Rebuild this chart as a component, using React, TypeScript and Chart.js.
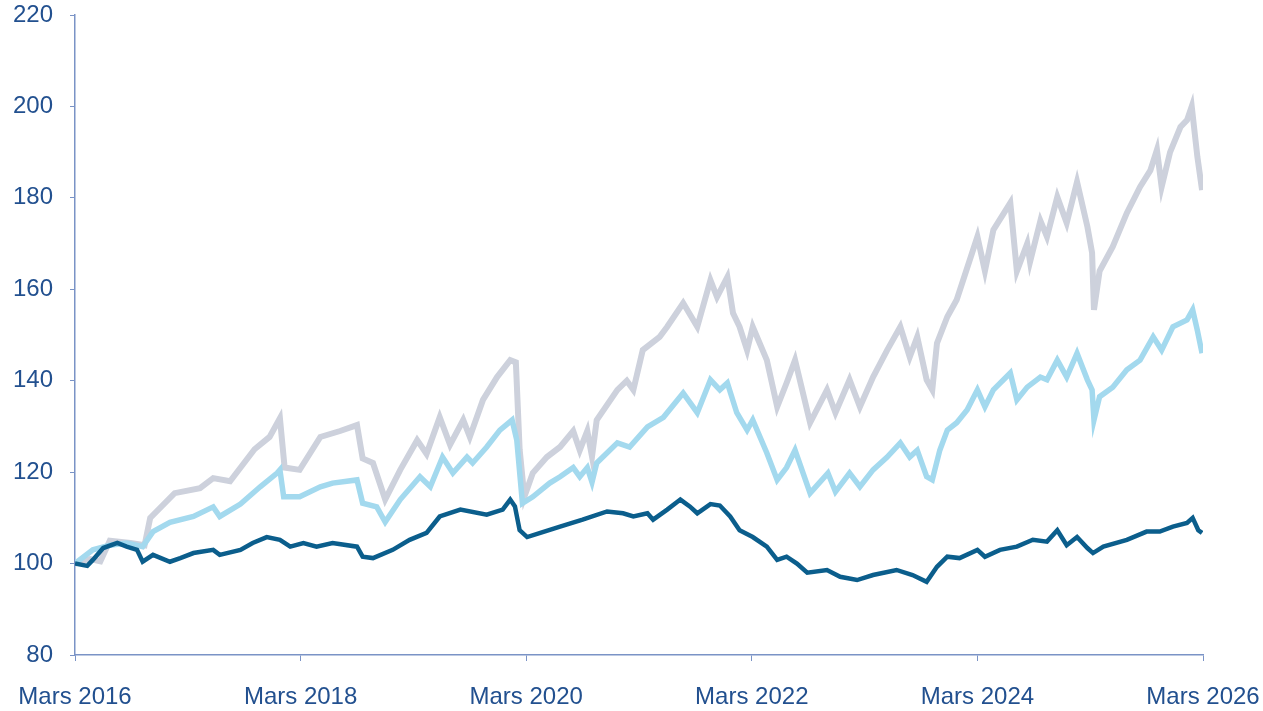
import React, { useEffect, useRef } from "react";
import { Chart, registerables } from "chart.js";

Chart.register(...registerables);

// Months since March 2016
const grayMonths = [0,1.6,2.7,3.7,5.9,7.4,8.0,10.6,13.3,14.7,16.5,19.1,20.7,21.8,22.3,23.9,26.1,28.2,30.0,30.6,31.7,33.0,34.6,36.4,37.4,38.8,39.9,41.3,42.0,43.4,44.9,46.3,46.9,47.3,47.8,48.7,50.2,51.6,53.0,53.7,54.5,55.0,55.5,57.7,58.7,59.4,60.4,62.2,63.0,64.7,66.2,67.6,68.3,69.4,70.0,70.7,71.5,72.1,73.6,74.7,75.7,76.6,78.2,80.0,80.9,82.4,83.5,84.9,86.4,87.8,88.8,89.6,90.6,91.2,91.7,92.8,93.8,96.0,96.8,97.7,99.5,100.2,101.3,101.6,102.7,103.4,104.5,105.5,106.6,107.7,108.2,108.4,109.0,110.4,111.9,113.3,114.4,115.1,115.6,116.5,117.6,118.3,118.8,119.4,119.9];
const grayValues = [100,101,100.5,105,104.5,104,110,115.4,116.5,118.7,118,125,127.7,131.8,121,120.5,127.7,129,130.3,123,122,114,120.5,127,124,132,126,131.4,127.7,135.8,140.8,144.5,144,125,114.6,119.8,123.3,125.5,129,124.8,129,123.4,131.4,138,140,138,146.7,149.6,151.8,157,151.8,162,158.3,162.7,154.8,151.8,146.7,151.8,144.5,134.3,139.5,144.5,130.8,138,133,140.2,134.3,140.8,146.7,151.8,145.2,149.6,140.2,138,148.2,154,157.7,171.5,164,173,178.9,164,170,166,175,171.5,180.2,174.5,183.5,173.7,168,155.5,164,169.3,176.7,182.4,186,190.5,182.4,190,195.5,197,200,189,181.7];

const lightMonths = [0,1.9,3.7,5.5,7.2,8.3,10.1,12.6,14.7,15.4,17.6,19.7,21.5,21.8,22.2,23.9,26.1,27.4,30.0,30.6,32.1,33.0,34.6,36.7,37.8,39.1,40.2,41.7,42.3,43.8,45.2,46.5,47.0,47.6,48.7,50.5,51.6,53.0,53.7,54.5,55.0,55.5,57.7,59.0,60.9,62.6,64.7,66.2,67.6,68.6,69.4,70.4,71.5,72.1,73.6,74.7,75.7,76.6,78.2,80.1,80.9,82.4,83.5,84.9,86.4,87.8,88.8,89.6,90.6,91.2,92.0,92.8,93.8,94.9,96.0,96.8,97.7,99.5,100.2,101.3,102.7,103.4,104.5,105.5,106.6,107.7,108.2,108.4,109.0,110.4,111.9,113.3,114.7,115.6,116.8,118.3,118.9,119.4,119.9];
const lightValues = [100,103,104,104.5,103.7,107,109,110.3,112.4,110.3,113,116.8,119.8,120.5,114.6,114.6,116.8,117.6,118.3,113.2,112.4,109.1,114,119,116.8,123.3,119.8,123.3,122,125.5,129.2,131.4,127,113.2,114.6,117.6,119,121,119,121,117.8,122,126.4,125.5,129.9,132,137.3,133,140.2,138,139.5,133,129.2,131.4,124.2,118.3,121,124.8,115.4,119.8,115.7,119.8,116.8,120.5,123.3,126.4,123.3,124.8,119,118.3,124.8,129.2,130.8,133.6,138,134.3,138,141.7,135.8,138.6,140.8,140.2,144.5,140.8,146,140.2,138,131.4,136.5,138.6,142.4,144.5,149.6,146.7,151.8,153.3,155.5,151,146];

const darkMonths = [0,1.3,1.9,3.0,4.5,5.5,6.6,7.2,8.3,10.1,11.2,12.6,14.7,15.4,17.6,18.9,20.4,21.8,22.9,24.3,25.7,27.4,30.0,30.6,31.7,33.8,35.6,37.4,38.8,41.0,43.8,45.5,46.3,46.8,47.3,48.1,49.5,51.6,54.0,56.6,58.3,59.4,60.9,61.5,63.0,64.4,65.4,66.2,67.6,68.6,69.7,70.7,72.1,73.6,74.7,75.7,76.8,77.9,80.0,81.4,83.2,84.9,87.4,89.1,90.6,91.7,92.8,94.1,96.0,96.8,98.4,100.2,101.9,103.4,104.5,105.5,106.6,107.7,108.3,109.4,111.9,114.0,115.4,116.8,118.3,118.9,119.5,119.9];
const darkValues = [100,99.5,100.8,103.4,104.5,103.7,103,100.4,101.9,100.4,101.2,102.3,103,101.9,103,104.5,105.8,105.2,103.7,104.5,103.7,104.5,103.7,101.5,101.2,103,105.2,106.7,110.3,111.8,110.7,111.8,114,112.5,107.3,105.8,106.7,108.1,109.6,111.4,111,110.3,111,109.6,111.8,114,112.5,111,113,112.7,110.3,107.3,105.8,103.7,100.8,101.5,100,98,98.6,97.1,96.4,97.5,98.6,97.5,96,99.3,101.5,101.2,103,101.5,103,103.7,105.2,104.8,107.3,104,105.8,103.4,102.3,103.7,105.2,107,107,108.1,108.9,110,107.3,106.7];

const tickMonths = [0, 24, 48, 72, 96, 120];
const tickLabels = ["Mars 2016", "Mars 2018", "Mars 2020", "Mars 2022", "Mars 2024", "Mars 2026"];

const toPoints = (xs: number[], ys: number[]) => xs.map((x, i) => ({ x, y: ys[i] }));

const AXIS_COLOR = "#7a93c6";
const LABEL_COLOR = "#22508f";
const FONT = { family: "'Liberation Sans', Arial, sans-serif", size: 24 };

export default function App() {
  const ref = useRef<HTMLCanvasElement | null>(null);
  useEffect(() => {
    if (!ref.current) return;
    const chart = new Chart(ref.current, {
      type: "line",
      data: {
        datasets: [
          { label: "C", data: toPoints(darkMonths, darkValues), borderColor: "#0b5e8c", borderWidth: 4.5, pointRadius: 0, tension: 0 },
          { label: "B", data: toPoints(lightMonths, lightValues), borderColor: "#a3d9ee", borderWidth: 5.5, pointRadius: 0, tension: 0 },
          { label: "A", data: toPoints(grayMonths, grayValues), borderColor: "#cdd1dc", borderWidth: 6, pointRadius: 0, tension: 0 },
        ],
      },
      options: {
        animation: false,
        responsive: false,
        maintainAspectRatio: false,
        layout: { padding: { left: 0, right: 60, top: 15, bottom: 0 } },
        plugins: { legend: { display: false }, tooltip: { enabled: false } },
        scales: {
          x: {
            type: "linear",
            min: 0,
            max: 120,
            afterBuildTicks: (scale: any) => {
              scale.ticks = tickMonths.map((v) => ({ value: v }));
            },
            afterFit: (scale: any) => {
              scale.height = 56;
              scale.paddingLeft = 0;
              scale.paddingRight = 0;
            },
            ticks: {
              autoSkip: false,
              maxRotation: 0,
              color: LABEL_COLOR,
              font: FONT,
              padding: 22,
              callback: (v: any) => {
                const i = tickMonths.indexOf(Number(v));
                return i >= 0 ? tickLabels[i] : "";
              },
            },
            grid: { drawOnChartArea: false, drawTicks: true, tickLength: 6, tickColor: AXIS_COLOR },
            border: { color: AXIS_COLOR, width: 1.5 },
          },
          y: {
            min: 80,
            max: 220,
            afterFit: (scale: any) => {
              scale.width = 75;
              scale.paddingTop = 0;
              scale.paddingBottom = 0;
            },
            ticks: { stepSize: 20, color: LABEL_COLOR, font: FONT, padding: 17 },
            grid: { drawOnChartArea: false, drawTicks: true, tickLength: 5, tickColor: AXIS_COLOR },
            border: { color: AXIS_COLOR, width: 1.5 },
          },
        },
      },
    });
    return () => chart.destroy();
  }, []);
  return (
    <div style={{ position: "fixed", left: 0, top: 0, width: 1263, height: 711, background: "#fff" }}>
      <canvas ref={ref} width={1263} height={711} />
    </div>
  );
}
